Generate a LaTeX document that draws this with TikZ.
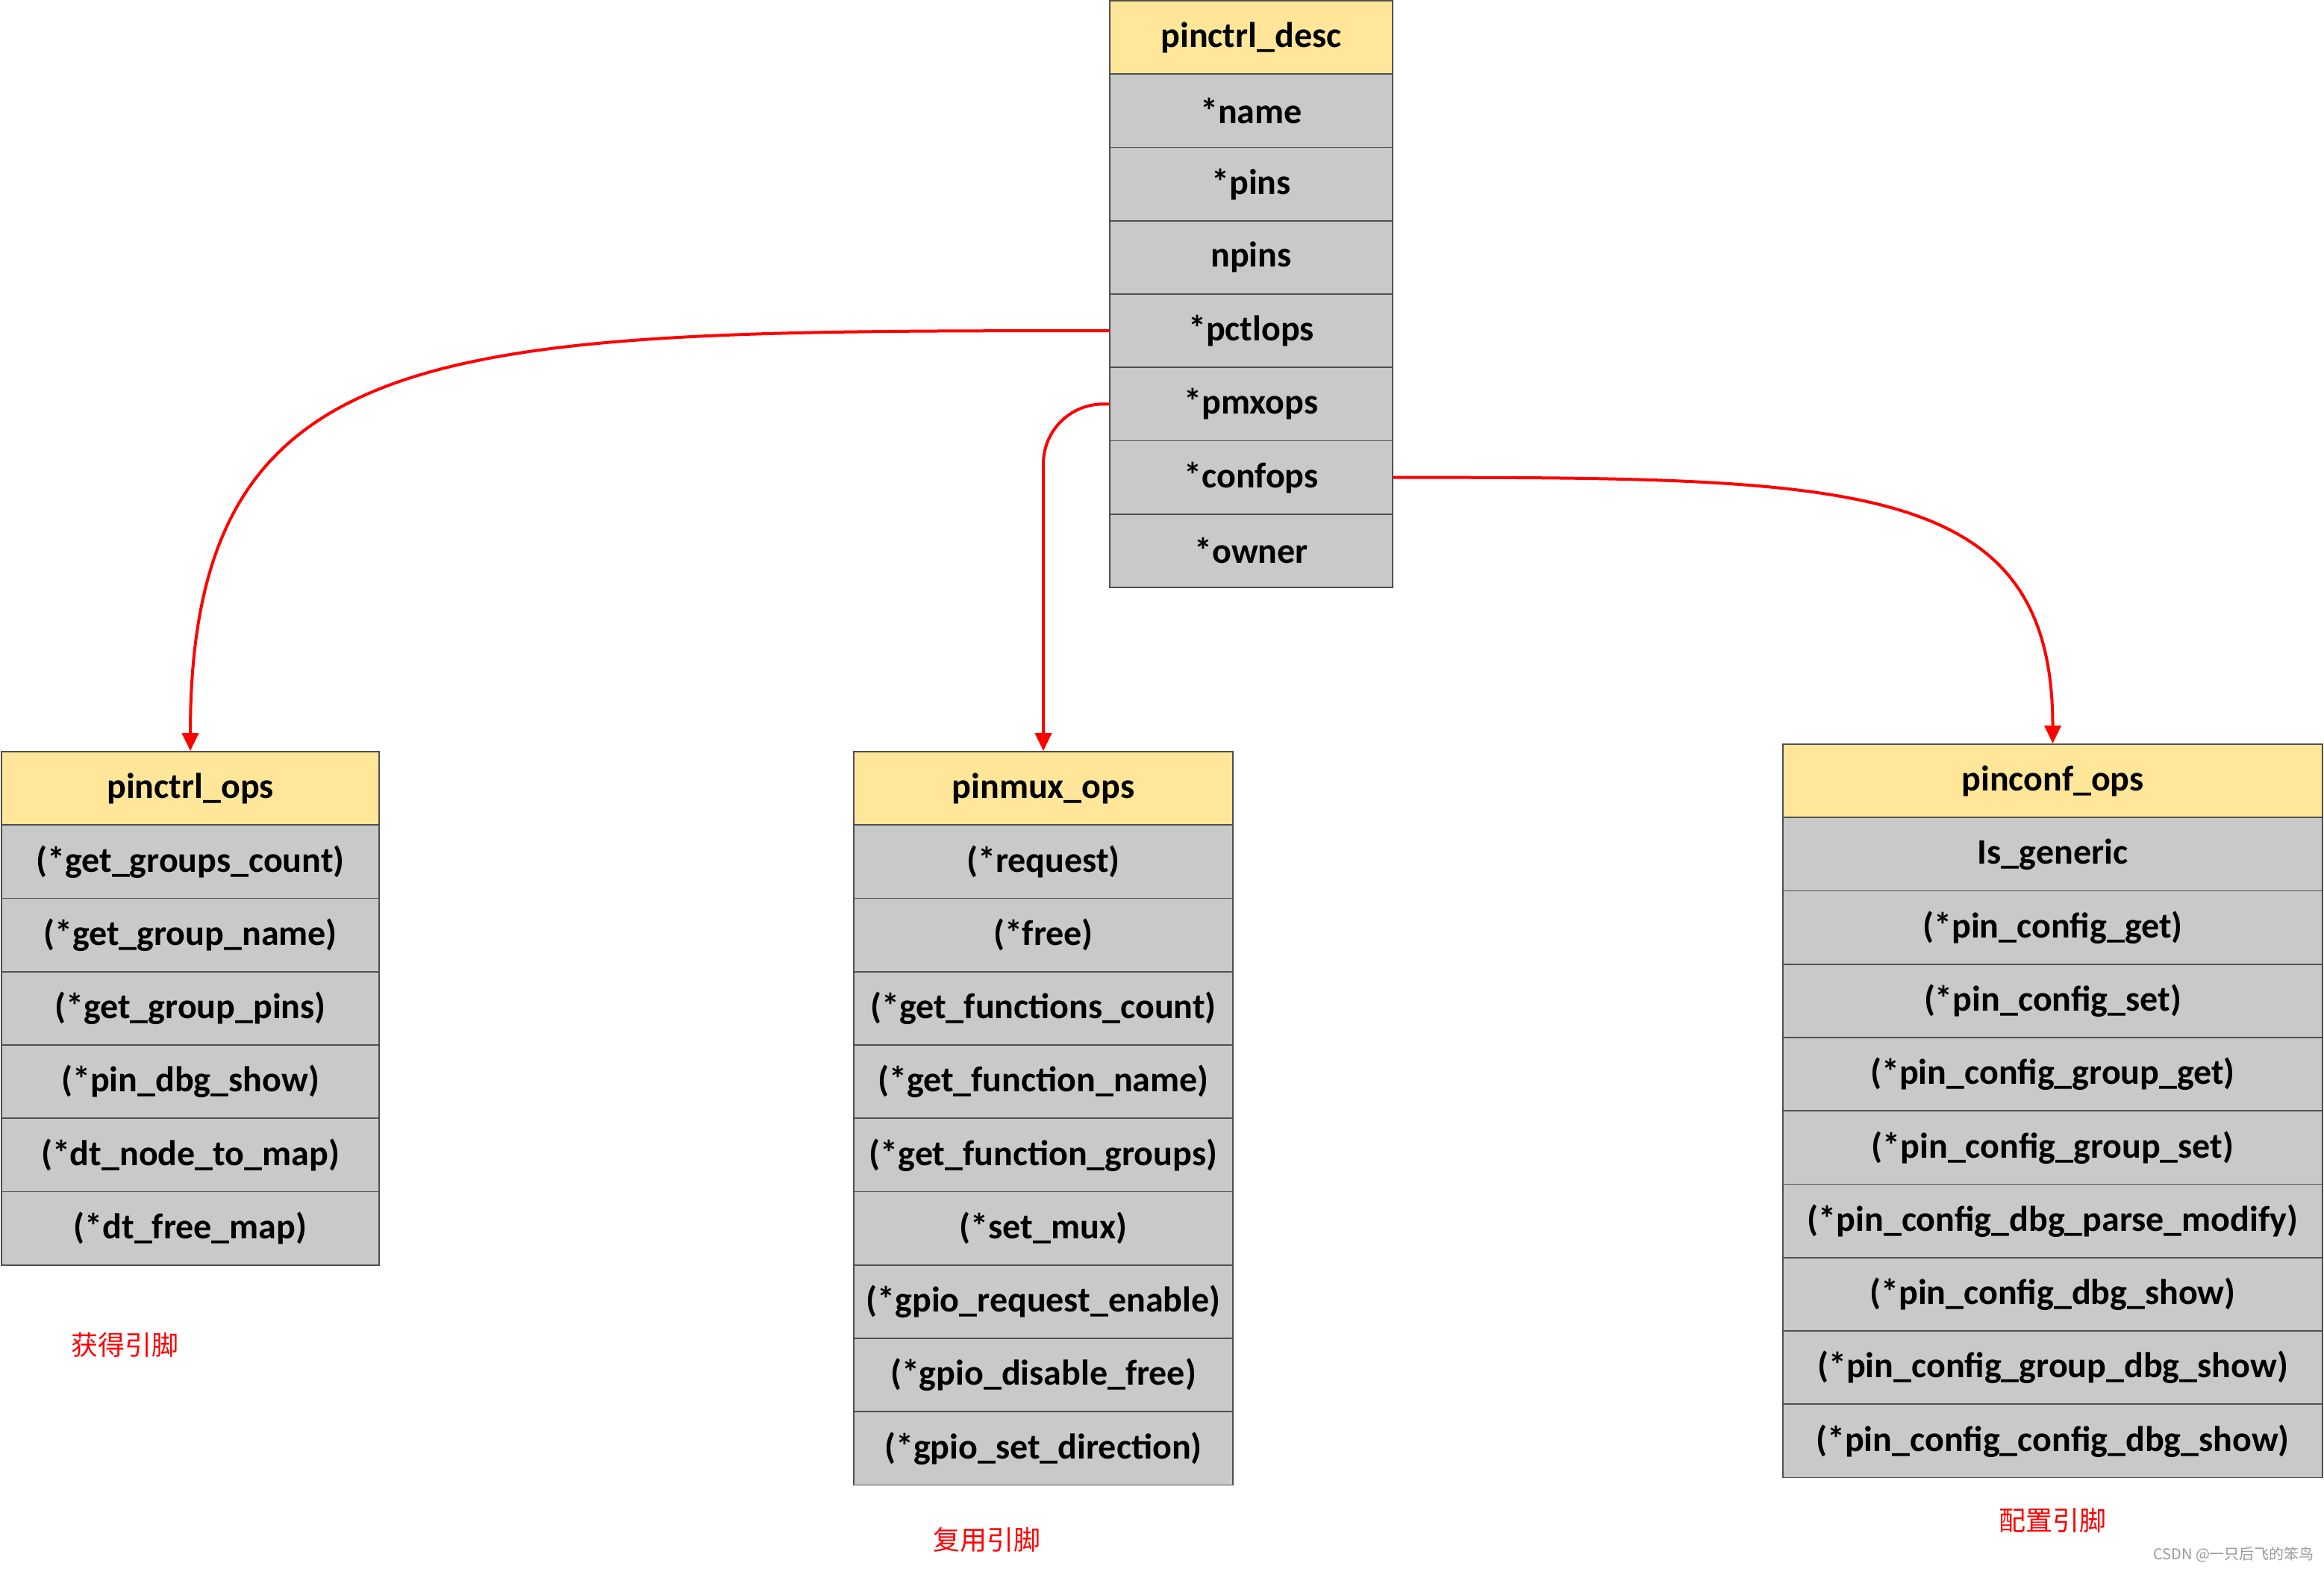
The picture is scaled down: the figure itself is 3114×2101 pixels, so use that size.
\documentclass[tikz,border=0pt]{standalone}
\usepackage{fontspec}
\setmainfont{Carlito}
\newfontfamily\cjk{Noto Sans CJK SC}
\usetikzlibrary{arrows.meta}
\definecolor{hdrfill}{HTML}{FFE699}
\definecolor{rowfill}{HTML}{C9C9C9}
\definecolor{edgegray}{HTML}{505050}
\definecolor{wmgray}{HTML}{9A9A9A}
\tikzset{
  cell/.style={draw=edgegray, line width=0.45pt, fill=rowfill, inner sep=0pt,
    minimum height=24.56pt, font=\bfseries\fontsize{12}{14}\selectfont, text=black},
  hdr/.style={cell, fill=hdrfill},
  wdesc/.style={minimum width=94.75pt},
  wctrl/.style={minimum width=126.5pt},
  wmux/.style={minimum width=127pt},
  wconf/.style={minimum width=180.75pt},
  conn/.style={draw=red, line width=1pt, -{Triangle[length=6pt,width=5.5pt]}},
  lbl/.style={text=red, font=\cjk\fontsize{9}{11}\selectfont, inner sep=0pt},
  wmark/.style={text=wmgray, font=\cjk\fontsize{5}{6}\selectfont, inner sep=0pt}
}
\begin{document}
\begin{tikzpicture}[x=0.25pt,y=-0.25pt]
\useasboundingbox[fill=white] (0,0) rectangle (3114,2101);
% pinctrl_desc
\node[hdr,wdesc]  (d0) at (1676.5,50.1)  {pinctrl\_desc};
\node[cell,wdesc] (d1) at (1676.5,148.35) {*name};
\node[cell,wdesc] (d2) at (1676.5,246.6) {*pins};
\node[cell,wdesc] (d3) at (1676.5,344.85) {npins};
\node[cell,wdesc] (d4) at (1676.5,443.1) {*pctlops};
\node[cell,wdesc] (d5) at (1676.5,541.35) {*pmxops};
\node[cell,wdesc] (d6) at (1676.5,639.6) {*confops};
\node[cell,wdesc] (d7) at (1676.5,737.85) {*owner};
% pinctrl_ops
\node[hdr,wctrl]  (c0) at (255,1056.1) {pinctrl\_ops};
\node[cell,wctrl] (c1) at (255,1154.35) {(*get\_groups\_count)};
\node[cell,wctrl] (c2) at (255,1252.6) {(*get\_group\_name)};
\node[cell,wctrl] (c3) at (255,1350.85) {(*get\_group\_pins)};
\node[cell,wctrl] (c4) at (255,1449.1) {(*pin\_dbg\_show)};
\node[cell,wctrl] (c5) at (255,1547.35) {(*dt\_node\_to\_map)};
\node[cell,wctrl] (c6) at (255,1645.6) {(*dt\_free\_map)};
% pinmux_ops
\node[hdr,wmux]  (m0) at (1398,1056.1) {pinmux\_ops};
\node[cell,wmux] (m1) at (1398,1154.35) {(*request)};
\node[cell,wmux] (m2) at (1398,1252.6) {(*free)};
\node[cell,wmux] (m3) at (1398,1350.85) {(*get\_functions\_count)};
\node[cell,wmux] (m4) at (1398,1449.1) {(*get\_function\_name)};
\node[cell,wmux] (m5) at (1398,1547.35) {(*get\_function\_groups)};
\node[cell,wmux] (m6) at (1398,1645.6) {(*set\_mux)};
\node[cell,wmux] (m7) at (1398,1743.85) {(*gpio\_request\_enable)};
\node[cell,wmux] (m8) at (1398,1842.1) {(*gpio\_disable\_free)};
\node[cell,wmux] (m9) at (1398,1940.35) {(*gpio\_set\_direction)};
% pinconf_ops
\node[hdr,wconf]  (p0) at (2750.5,1046.1) {pinconf\_ops};
\node[cell,wconf] (p1) at (2750.5,1144.35) {Is\_generic};
\node[cell,wconf] (p2) at (2750.5,1242.6) {(*pin\_config\_get)};
\node[cell,wconf] (p3) at (2750.5,1340.85) {(*pin\_config\_set)};
\node[cell,wconf] (p4) at (2750.5,1439.1) {(*pin\_config\_group\_get)};
\node[cell,wconf] (p5) at (2750.5,1537.35) {(*pin\_config\_group\_set)};
\node[cell,wconf] (p6) at (2750.5,1635.6) {(*pin\_config\_dbg\_parse\_modify)};
\node[cell,wconf] (p7) at (2750.5,1733.85) {(*pin\_config\_dbg\_show)};
\node[cell,wconf] (p8) at (2750.5,1832.1) {(*pin\_config\_group\_dbg\_show)};
\node[cell,wconf] (p9) at (2750.5,1930.35) {(*pin\_config\_config\_dbg\_show)};
% connectors
\draw[conn] (d4.west) .. controls (596,443) and (255,443) .. (c0.north);
\draw[conn, rounded corners=20pt] (d5.west) -| (m0.north);
\draw[conn] (d6.east) .. controls (2482,640) and (2750.5,640) .. (p0.north);
% labels
\node[lbl] (l1) at (167,1802) {获得引脚};
\node[lbl] (l2) at (1322,2063) {复用引脚};
\node[lbl] (l3) at (2750,2037) {配置引脚};
\node[wmark] (wm) at (2993,2083) {CSDN @一只后飞的笨鸟};
\end{tikzpicture}
\end{document}
